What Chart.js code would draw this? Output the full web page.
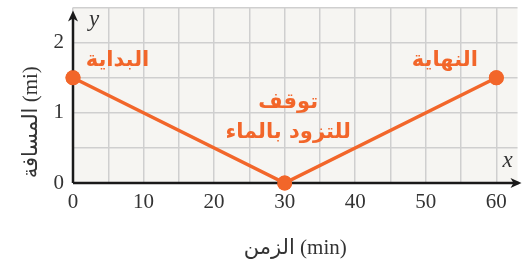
<!DOCTYPE html>
<html>
<head>
<meta charset="utf-8">
<script src="https://cdn.jsdelivr.net/npm/chart.js@4.4.1/dist/chart.umd.min.js"></script>
<style>
html,body{margin:0;padding:0;background:#fff;}
#wrap{width:525px;height:265px;position:relative;}
</style>
</head>
<body>
<div id="wrap"><canvas id="c" width="525" height="265"></canvas></div>
<script>
// Data
const timeMin = [0, 30, 60];
const distanceMi = [1.5, 0, 1.5];
const xTickValues = [0, 5, 10, 15, 20, 25, 30, 35, 40, 45, 50, 55, 60];
const yTickValues = [0, 0.5, 1, 1.5, 2, 2.5];
const xLabeledTicks = [0, 10, 20, 30, 40, 50, 60];
const yLabeledTicks = [0, 1, 2];
const noteTexts = ['البداية', 'النهاية', 'توقف', 'للتزود بالماء'];
const noteX = [6.3, 52.7, 30.5, 30.5];
const noteY = [1.74, 1.74, 1.15, 0.72];
const xTitle = 'الزمن (min)';
const yTitle = 'المسافة (mi)';

const ORANGE = '#f2662a';
const DARK = '#333333';

const decor = {
  id: 'decor',
  beforeDraw(chart) {
    const {ctx, chartArea: a} = chart;
    ctx.save();
    ctx.fillStyle = '#f6f5f2';
    ctx.fillRect(a.left, a.top, a.right - a.left, a.bottom - a.top);
    ctx.restore();
  },
  afterDatasetsDraw(chart) {
    const {ctx, chartArea: a, scales} = chart;
    const xs = scales.x, ys = scales.y;
    ctx.save();
    ctx.strokeStyle = '#1a1a1a';
    ctx.fillStyle = '#1a1a1a';
    ctx.lineWidth = 2.5;
    const x0 = xs.getPixelForValue(0), y0 = ys.getPixelForValue(0);
    ctx.beginPath();
    ctx.moveTo(x0, y0); ctx.lineTo(a.right + 1, y0);
    ctx.stroke();
    ctx.beginPath();
    ctx.moveTo(x0, y0); ctx.lineTo(x0, a.top + 8);
    ctx.stroke();
    ctx.beginPath();
    ctx.moveTo(a.right + 4, y0);
    ctx.lineTo(a.right - 7, y0 - 5);
    ctx.lineTo(a.right - 4, y0);
    ctx.lineTo(a.right - 7, y0 + 5);
    ctx.closePath(); ctx.fill();
    ctx.beginPath();
    ctx.moveTo(x0, a.top + 3);
    ctx.lineTo(x0 - 5, a.top + 14);
    ctx.lineTo(x0, a.top + 11);
    ctx.lineTo(x0 + 5, a.top + 14);
    ctx.closePath(); ctx.fill();
    ctx.font = 'italic 23px "Liberation Serif", serif';
    ctx.fillStyle = DARK;
    ctx.textAlign = 'center';
    ctx.textBaseline = 'middle';
    ctx.fillText('y', x0 + 21, a.top + 12);
    ctx.fillText('x', a.right - 10, y0 - 22);
    const meta = chart.getDatasetMeta(0);
    meta.data.forEach(p => {
      ctx.beginPath();
      ctx.fillStyle = ORANGE;
      ctx.arc(p.x, p.y, 7.5, 0, Math.PI * 2);
      ctx.fill();
    });
    ctx.fillStyle = ORANGE;
    ctx.font = 'bold 21px "DejaVu Sans", sans-serif';
    noteTexts.forEach((t, i) => {
      ctx.fillText(t, xs.getPixelForValue(noteX[i]), ys.getPixelForValue(noteY[i]));
    });
    ctx.fillStyle = DARK;
    ctx.font = '21px "Liberation Serif", "DejaVu Sans", serif';
    ctx.translate(31, (a.top + a.bottom) / 2 + 27);
    ctx.rotate(-Math.PI / 2);
    ctx.fillText(yTitle, 0, 0);
    ctx.restore();
  }
};

new Chart(document.getElementById('c'), {
  type: 'line',
  data: {
    datasets: [{
      data: timeMin.map((t, i) => ({x: t, y: distanceMi[i]})),
      borderColor: ORANGE,
      backgroundColor: ORANGE,
      borderWidth: 3.5,
      pointRadius: 7.5,
      pointHoverRadius: 7.5,
      pointBackgroundColor: ORANGE,
      pointBorderWidth: 0,
      tension: 0,
      clip: false
    }]
  },
  options: {
    responsive: false,
    animation: false,
    events: [],
    layout: {padding: {top: 4, right: 5, left: 0, bottom: 0}},
    plugins: {legend: {display: false}, tooltip: {enabled: false}},
    scales: {
      x: {
        type: 'linear',
        min: 0,
        max: 63,
        afterBuildTicks: s => { s.ticks = xTickValues.map(v => ({value: v})); },
        afterFit: s => { s.height = 82; s.paddingLeft = 0; s.paddingRight = 0; },
        grid: {color: '#cfcfcf', lineWidth: 1.5, drawTicks: false},
        border: {display: false},
        ticks: {
          autoSkip: false,
          maxRotation: 0,
          padding: 7,
          color: DARK,
          font: {family: '"Liberation Serif", serif', size: 21},
          callback: v => xLabeledTicks.includes(v) ? String(v) : ''
        },
        title: {
          display: true,
          text: xTitle,
          color: DARK,
          padding: {top: 3},
          font: {family: '"Liberation Serif", "DejaVu Sans", serif', size: 21}
        }
      },
      y: {
        type: 'linear',
        min: 0,
        max: 2.5,
        afterBuildTicks: s => { s.ticks = yTickValues.map(v => ({value: v})); },
        afterFit: s => { s.width = 73; s.paddingTop = 0; s.paddingBottom = 0; },
        grid: {color: '#cfcfcf', lineWidth: 1.5, drawTicks: false},
        border: {display: false},
        ticks: {
          autoSkip: false,
          padding: 9,
          color: DARK,
          font: {family: '"Liberation Serif", serif', size: 21},
          callback: v => yLabeledTicks.includes(v) ? String(v) : ''
        }
      }
    }
  },
  plugins: [decor]
});
</script>
</body>
</html>
